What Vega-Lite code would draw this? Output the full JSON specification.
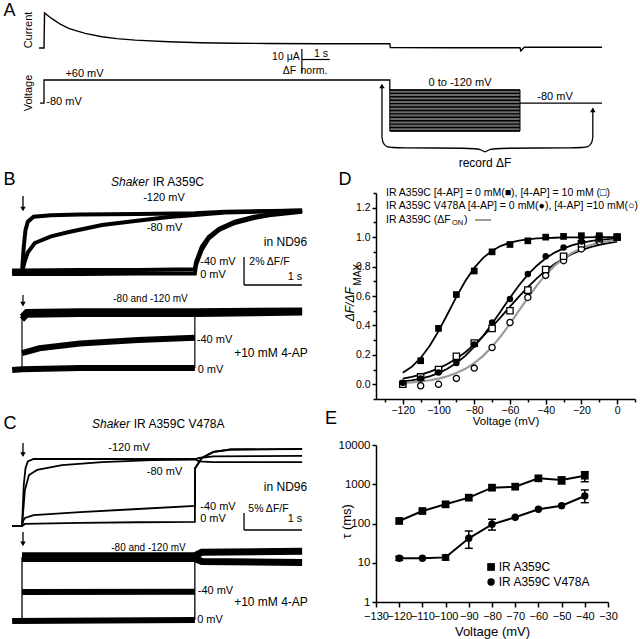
{
"$schema":"https://vega.github.io/schema/vega-lite/v6.json",
"padding":0,
"background":"white",
"spacing":0,
"bounds":"flush",
"config":{
 "view":{"stroke":null},
 "font":"Liberation Sans",
 "mark":{"color":"black"},
 "text":{"font":"Liberation Sans","fontSize":11,"color":"black"},
 "axis":{"labelFont":"Liberation Sans","titleFont":"Liberation Sans","domainColor":"black","tickColor":"black","labelColor":"black","titleColor":"black","grid":false,"titleFontWeight":"normal","domainWidth":1.5,"tickWidth":1.5,"labelFlush":false,"labelOverlap":false}
},
"datasets":{
 "aCur":[{"t":-0.18,"uA":0},{"t":0,"uA":0},{"t":0.02,"uA":14.6},{"t":0.2,"uA":12.9},{"t":0.39,"uA":11.4},{"t":0.6,"uA":9.8},{"t":0.88,"uA":8.2},{"t":1.2,"uA":7.0},{"t":1.47,"uA":6.1},{"t":2.07,"uA":4.7},{"t":2.6,"uA":3.9},{"t":3.26,"uA":3.3},{"t":4.45,"uA":2.6},{"t":5.6,"uA":2.2},{"t":6.8,"uA":2.0},{"t":8.0,"uA":1.9},{"t":9.93,"uA":1.8},{"t":12.35,"uA":1.8},{"t":12.37,"uA":0.2},{"t":14.5,"uA":0.1},{"t":17.0,"uA":0.1},{"t":17.03,"uA":-1.2},{"t":17.15,"uA":0.3},{"t":19.93,"uA":0.3}],
 "aVolt":[{"i":1,"seg":1,"t":-0.14,"mV":-80},{"i":2,"seg":1,"t":0,"mV":-80},{"i":3,"seg":1,"t":0,"mV":60},{"i":4,"seg":1,"t":12.35,"mV":60},{"i":5,"seg":1,"t":12.35,"mV":0},{"i":6,"seg":2,"t":17.0,"mV":-80},{"i":7,"seg":2,"t":19.93,"mV":-80}],
 "aFam":[{"mV":0,"start":12.35,"end":17.0},{"mV":-10,"start":12.35,"end":17.0},{"mV":-20,"start":12.35,"end":17.0},{"mV":-30,"start":12.35,"end":17.0},{"mV":-40,"start":12.35,"end":17.0},{"mV":-50,"start":12.35,"end":17.0},{"mV":-60,"start":12.35,"end":17.0},{"mV":-70,"start":12.35,"end":17.0},{"mV":-80,"start":12.35,"end":17.0},{"mV":-90,"start":12.35,"end":17.0},{"mV":-100,"start":12.35,"end":17.0},{"mV":-110,"start":12.35,"end":17.0},{"mV":-120,"start":12.35,"end":17.0}],
 "aBrace":[{"t":12.07,"mV":-286.7},{"t":12.1,"mV":-325},{"t":12.22,"mV":-348},{"t":12.5,"mV":-353.7},{"t":15.35,"mV":-353.7},{"t":15.62,"mV":-362},{"t":15.75,"mV":-384},{"t":15.88,"mV":-362},{"t":16.15,"mV":-353.7},{"t":19.17,"mV":-353.7},{"t":19.45,"mV":-348},{"t":19.57,"mV":-325},{"t":19.6,"mV":-286.7}],
 "bNd":[
  {"tr":"-120","t":-0.17,"pct":0},{"tr":"-120","t":0,"pct":0},{"tr":"-120","t":0.03,"pct":1.8},{"tr":"-120","t":0.06,"pct":3.0},{"tr":"-120","t":0.1,"pct":3.6},{"tr":"-120","t":0.2,"pct":3.95},{"tr":"-120","t":0.5,"pct":4.05},{"tr":"-120","t":1.0,"pct":4.1},{"tr":"-120","t":2.0,"pct":4.15},{"tr":"-120","t":2.98,"pct":4.2},{"tr":"-120","t":3.5,"pct":4.3},{"tr":"-120","t":4.83,"pct":4.4},
  {"tr":"-80","t":-0.17,"pct":0},{"tr":"-80","t":0,"pct":0},{"tr":"-80","t":0.05,"pct":0.8},{"tr":"-80","t":0.1,"pct":1.4},{"tr":"-80","t":0.22,"pct":2.07},{"tr":"-80","t":0.5,"pct":2.55},{"tr":"-80","t":0.81,"pct":2.86},{"tr":"-80","t":1.38,"pct":3.36},{"tr":"-80","t":1.95,"pct":3.64},{"tr":"-80","t":2.53,"pct":3.93},{"tr":"-80","t":2.98,"pct":4.07},{"tr":"-80","t":3.5,"pct":4.25},{"tr":"-80","t":4.83,"pct":4.4},
  {"tr":"-40","t":-0.17,"pct":0.1},{"tr":"-40","t":0,"pct":0.1},{"tr":"-40","t":1,"pct":0.15},{"tr":"-40","t":2,"pct":0.15},{"tr":"-40","t":2.98,"pct":0.2},{"tr":"-40","t":3.0,"pct":0.7},{"tr":"-40","t":3.1,"pct":1.8},{"tr":"-40","t":3.22,"pct":2.5},{"tr":"-40","t":3.4,"pct":3.1},{"tr":"-40","t":3.67,"pct":3.6},{"tr":"-40","t":4.0,"pct":3.95},{"tr":"-40","t":4.26,"pct":4.1},{"tr":"-40","t":4.83,"pct":4.35},
  {"tr":"0","t":-0.17,"pct":-0.15},{"tr":"0","t":0,"pct":-0.15},{"tr":"0","t":1,"pct":-0.15},{"tr":"0","t":2,"pct":-0.1},{"tr":"0","t":2.98,"pct":-0.1},{"tr":"0","t":3.0,"pct":0.5},{"tr":"0","t":3.1,"pct":1.6},{"tr":"0","t":3.22,"pct":2.4},{"tr":"0","t":3.4,"pct":3.0},{"tr":"0","t":3.67,"pct":3.5},{"tr":"0","t":4.0,"pct":3.85},{"tr":"0","t":4.26,"pct":4.05},{"tr":"0","t":4.83,"pct":4.3}],
 "b4ap":[
  {"tr":"-120","t":0,"pct":3.8},{"tr":"-120","t":0.08,"pct":4.15},{"tr":"-120","t":1,"pct":4.2},{"tr":"-120","t":2.98,"pct":4.2},{"tr":"-120","t":4.83,"pct":4.25},
  {"tr":"-80","t":0,"pct":3.6},{"tr":"-80","t":0.08,"pct":3.95},{"tr":"-80","t":1,"pct":4.0},{"tr":"-80","t":2.98,"pct":4.0},{"tr":"-80","t":4.83,"pct":4.1},
  {"tr":"-40","t":0,"pct":1.2},{"tr":"-40","t":0.3,"pct":1.55},{"tr":"-40","t":1,"pct":1.9},{"tr":"-40","t":2,"pct":2.15},{"tr":"-40","t":2.98,"pct":2.3},
  {"tr":"0","t":-0.17,"pct":0},{"tr":"0","t":0,"pct":0.05},{"tr":"0","t":1,"pct":0.15},{"tr":"0","t":2.98,"pct":0.15}],
 "cNd":[
  {"tr":"-120","t":-0.17,"pct":0},{"tr":"-120","t":0,"pct":0},{"tr":"-120","t":0.03,"pct":12},{"tr":"-120","t":0.06,"pct":17},{"tr":"-120","t":0.1,"pct":19},{"tr":"-120","t":0.2,"pct":19.7},{"tr":"-120","t":1,"pct":19.7},{"tr":"-120","t":2.98,"pct":19.7},{"tr":"-120","t":3.05,"pct":19.0},{"tr":"-120","t":3.3,"pct":18.8},{"tr":"-120","t":4.83,"pct":18.8},
  {"tr":"-80","t":-0.17,"pct":0},{"tr":"-80","t":0,"pct":0},{"tr":"-80","t":0.05,"pct":10.6},{"tr":"-80","t":0.12,"pct":15},{"tr":"-80","t":0.26,"pct":16.5},{"tr":"-80","t":0.69,"pct":17.9},{"tr":"-80","t":1.38,"pct":18.8},{"tr":"-80","t":2.24,"pct":19.4},{"tr":"-80","t":2.98,"pct":19.5},{"tr":"-80","t":3.05,"pct":20},{"tr":"-80","t":3.3,"pct":20.5},{"tr":"-80","t":4.83,"pct":20.6},
  {"tr":"-40","t":-0.17,"pct":0},{"tr":"-40","t":0,"pct":0},{"tr":"-40","t":0.02,"pct":1.5},{"tr":"-40","t":0.05,"pct":2.35},{"tr":"-40","t":0.2,"pct":3.2},{"tr":"-40","t":1,"pct":4.1},{"tr":"-40","t":2,"pct":5.0},{"tr":"-40","t":2.98,"pct":5.9},{"tr":"-40","t":2.985,"pct":17},{"tr":"-40","t":3.1,"pct":20},{"tr":"-40","t":3.3,"pct":21.8},{"tr":"-40","t":3.6,"pct":22.5},{"tr":"-40","t":4.83,"pct":22.6},
  {"tr":"0","t":-0.17,"pct":0},{"tr":"0","t":0,"pct":0},{"tr":"0","t":0.05,"pct":0.6},{"tr":"0","t":1,"pct":0.9},{"tr":"0","t":2,"pct":1.1},{"tr":"0","t":2.98,"pct":1.2},{"tr":"0","t":2.985,"pct":17},{"tr":"0","t":3.1,"pct":20},{"tr":"0","t":3.3,"pct":21.8},{"tr":"0","t":3.6,"pct":22.5},{"tr":"0","t":4.83,"pct":22.7}],
 "c4ap":[
  {"tr":"-120","t":0,"pct":18.4},{"tr":"-120","t":2.98,"pct":18.4},{"tr":"-120","t":3.1,"pct":17.5},{"tr":"-120","t":4.83,"pct":17.2},
  {"tr":"-80","t":0,"pct":19.2},{"tr":"-80","t":2.98,"pct":19.2},{"tr":"-80","t":3.1,"pct":20.2},{"tr":"-80","t":4.83,"pct":20.5},
  {"tr":"-40","t":0,"pct":8.5},{"tr":"-40","t":2.98,"pct":8.6},
  {"tr":"0","t":-0.17,"pct":0},{"tr":"0","t":2.98,"pct":0.3}],
 "dCurve":[
  {"s":"sq0","V":-120,"val":0.078},{"s":"sq0","V":-115,"val":0.119},{"s":"sq0","V":-110,"val":0.179},{"s":"sq0","V":-105,"val":0.26},{"s":"sq0","V":-100,"val":0.361},{"s":"sq0","V":-95,"val":0.476},{"s":"sq0","V":-90,"val":0.594},{"s":"sq0","V":-85,"val":0.702},{"s":"sq0","V":-80,"val":0.791},{"s":"sq0","V":-75,"val":0.859},{"s":"sq0","V":-70,"val":0.908},{"s":"sq0","V":-65,"val":0.941},{"s":"sq0","V":-60,"val":0.962},{"s":"sq0","V":-55,"val":0.976},{"s":"sq0","V":-50,"val":0.985},{"s":"sq0","V":-45,"val":0.991},{"s":"sq0","V":-40,"val":0.994},{"s":"sq0","V":-35,"val":0.996},{"s":"sq0","V":-30,"val":0.998},{"s":"sq0","V":-20,"val":0.999},{"s":"sq0","V":-10,"val":1.0},{"s":"sq0","V":0,"val":1.0},
  {"s":"sq10","V":-120,"val":0.038},{"s":"sq10","V":-115,"val":0.05},{"s":"sq10","V":-110,"val":0.065},{"s":"sq10","V":-105,"val":0.084},{"s":"sq10","V":-100,"val":0.108},{"s":"sq10","V":-95,"val":0.138},{"s":"sq10","V":-90,"val":0.174},{"s":"sq10","V":-85,"val":0.218},{"s":"sq10","V":-80,"val":0.269},{"s":"sq10","V":-75,"val":0.327},{"s":"sq10","V":-70,"val":0.391},{"s":"sq10","V":-65,"val":0.458},{"s":"sq10","V":-60,"val":0.528},{"s":"sq10","V":-55,"val":0.596},{"s":"sq10","V":-50,"val":0.661},{"s":"sq10","V":-45,"val":0.72},{"s":"sq10","V":-40,"val":0.772},{"s":"sq10","V":-35,"val":0.818},{"s":"sq10","V":-30,"val":0.855},{"s":"sq10","V":-25,"val":0.887},{"s":"sq10","V":-20,"val":0.912},{"s":"sq10","V":-15,"val":0.932},{"s":"sq10","V":-10,"val":0.947},{"s":"sq10","V":-5,"val":0.96},{"s":"sq10","V":0,"val":0.969},
  {"s":"ci0","V":-120,"val":0.019},{"s":"ci0","V":-115,"val":0.027},{"s":"ci0","V":-110,"val":0.039},{"s":"ci0","V":-105,"val":0.054},{"s":"ci0","V":-100,"val":0.076},{"s":"ci0","V":-95,"val":0.105},{"s":"ci0","V":-90,"val":0.144},{"s":"ci0","V":-85,"val":0.193},{"s":"ci0","V":-80,"val":0.255},{"s":"ci0","V":-75,"val":0.329},{"s":"ci0","V":-70,"val":0.411},{"s":"ci0","V":-65,"val":0.5},{"s":"ci0","V":-60,"val":0.588},{"s":"ci0","V":-55,"val":0.671},{"s":"ci0","V":-50,"val":0.745},{"s":"ci0","V":-45,"val":0.806},{"s":"ci0","V":-40,"val":0.856},{"s":"ci0","V":-35,"val":0.895},{"s":"ci0","V":-30,"val":0.924},{"s":"ci0","V":-25,"val":0.946},{"s":"ci0","V":-20,"val":0.961},{"s":"ci0","V":-15,"val":0.973},{"s":"ci0","V":-10,"val":0.981},{"s":"ci0","V":-5,"val":0.986},{"s":"ci0","V":0,"val":0.99},
  {"s":"ON","V":-120,"val":0.0096},{"s":"ON","V":-115,"val":0.0136},{"s":"ON","V":-110,"val":0.019},{"s":"ON","V":-105,"val":0.0274},{"s":"ON","V":-100,"val":0.0386},{"s":"ON","V":-95,"val":0.0543},{"s":"ON","V":-90,"val":0.076},{"s":"ON","V":-85,"val":0.105},{"s":"ON","V":-80,"val":0.144},{"s":"ON","V":-75,"val":0.193},{"s":"ON","V":-70,"val":0.255},{"s":"ON","V":-65,"val":0.329},{"s":"ON","V":-60,"val":0.411},{"s":"ON","V":-55,"val":0.5},{"s":"ON","V":-50,"val":0.588},{"s":"ON","V":-45,"val":0.671},{"s":"ON","V":-40,"val":0.745},{"s":"ON","V":-35,"val":0.806},{"s":"ON","V":-30,"val":0.856},{"s":"ON","V":-25,"val":0.895},{"s":"ON","V":-20,"val":0.924},{"s":"ON","V":-15,"val":0.946},{"s":"ON","V":-10,"val":0.961},{"s":"ON","V":-5,"val":0.973},{"s":"ON","V":0,"val":0.981}],
 "dPts":[
  {"s":"sqF","V":-110,"val":0.16},{"s":"sqF","V":-100,"val":0.38},{"s":"sqF","V":-90,"val":0.61},{"s":"sqF","V":-80,"val":0.77},{"s":"sqF","V":-70,"val":0.9},{"s":"sqF","V":-60,"val":0.95},{"s":"sqF","V":-50,"val":0.975},{"s":"sqF","V":-40,"val":1.0},{"s":"sqF","V":-30,"val":1.005},{"s":"sqF","V":-20,"val":1.01},{"s":"sqF","V":-10,"val":1.01},{"s":"sqF","V":0,"val":1.0},
  {"s":"sqO","V":-120,"val":0.0},{"s":"sqO","V":-110,"val":0.05},{"s":"sqO","V":-100,"val":0.1},{"s":"sqO","V":-90,"val":0.19},{"s":"sqO","V":-80,"val":0.28},{"s":"sqO","V":-70,"val":0.38},{"s":"sqO","V":-60,"val":0.5},{"s":"sqO","V":-50,"val":0.64},{"s":"sqO","V":-40,"val":0.78},{"s":"sqO","V":-30,"val":0.87},{"s":"sqO","V":-20,"val":0.955},{"s":"sqO","V":-10,"val":0.99},{"s":"sqO","V":0,"val":1.0},
  {"s":"ciF","V":-120,"val":0.01},{"s":"ciF","V":-110,"val":0.04},{"s":"ciF","V":-100,"val":0.08},{"s":"ciF","V":-90,"val":0.145},{"s":"ciF","V":-80,"val":0.27},{"s":"ciF","V":-70,"val":0.42},{"s":"ciF","V":-60,"val":0.58},{"s":"ciF","V":-50,"val":0.75},{"s":"ciF","V":-40,"val":0.87},{"s":"ciF","V":-30,"val":0.93},{"s":"ciF","V":-20,"val":0.97},{"s":"ciF","V":-10,"val":0.99},{"s":"ciF","V":0,"val":1.0},
  {"s":"ciO","V":-120,"val":0.0},{"s":"ciO","V":-110,"val":-0.01},{"s":"ciO","V":-100,"val":0.0},{"s":"ciO","V":-90,"val":0.04},{"s":"ciO","V":-80,"val":0.11},{"s":"ciO","V":-70,"val":0.25},{"s":"ciO","V":-60,"val":0.42},{"s":"ciO","V":-50,"val":0.59},{"s":"ciO","V":-40,"val":0.74},{"s":"ciO","V":-30,"val":0.84},{"s":"ciO","V":-20,"val":0.92},{"s":"ciO","V":-10,"val":0.97},{"s":"ciO","V":0,"val":1.0}],
 "eTau":[
  {"s":"sq","V":-120,"tau":116},{"s":"sq","V":-110,"tau":208},{"s":"sq","V":-100,"tau":308},{"s":"sq","V":-90,"tau":455},{"s":"sq","V":-80,"tau":818},{"s":"sq","V":-70,"tau":867},{"s":"sq","V":-60,"tau":1416},{"s":"sq","V":-50,"tau":1283},{"s":"sq","V":-40,"tau":1652},
  {"s":"ci","V":-120,"tau":13.0},{"s":"ci","V":-110,"tau":13.0},{"s":"ci","V":-100,"tau":13.7},{"s":"ci","V":-90,"tau":41.9},{"s":"ci","V":-80,"tau":95.4},{"s":"ci","V":-70,"tau":144},{"s":"ci","V":-60,"tau":230},{"s":"ci","V":-50,"tau":284},{"s":"ci","V":-40,"tau":502}],
 "eErr":[{"V":-120,"lo":11.5,"hi":14.5},{"V":-100,"lo":11.7,"hi":15.7},{"V":-90,"lo":23.3,"hi":64.4},{"V":-80,"lo":68,"hi":128},{"V":-40,"lo":339,"hi":713},{"V":-50,"lo":1015,"hi":1500},{"V":-40,"lo":1160,"hi":2090}]
},
"vconcat":[
 {
  "width":640,"height":170,
  "resolve":{"scale":{"y":"independent"}},
  "layer":[
   {"layer":[
    {"data":{"name":"aCur"},"mark":{"type":"line","strokeWidth":1.4},
     "encoding":{"x":{"field":"t","type":"quantitative","scale":{"domain":[-1.5,21.357],"nice":false,"zero":false},"axis":null},
                 "y":{"field":"uA","type":"quantitative","scale":{"domain":[-50.833,20],"nice":false,"zero":false},"axis":null}}},
    {"data":{"values":[{"t":9.21,"lo":-10.42,"hi":-0.42}]},"mark":{"type":"rule","strokeWidth":1.2},
     "encoding":{"x":{"field":"t","type":"quantitative","scale":{"domain":[-1.5,21.357],"nice":false,"zero":false},"axis":null},
                 "y":{"field":"lo","type":"quantitative","scale":{"domain":[-50.833,20],"nice":false,"zero":false},"axis":null},"y2":{"field":"hi"}}},
    {"data":{"values":[{"uA":-4.79,"t0":9.21,"t1":10.21}]},"mark":{"type":"rule","strokeWidth":1.2},
     "encoding":{"x":{"field":"t0","type":"quantitative","scale":{"domain":[-1.5,21.357],"nice":false,"zero":false},"axis":null},"x2":{"field":"t1"},
                 "y":{"field":"uA","type":"quantitative","scale":{"domain":[-50.833,20],"nice":false,"zero":false},"axis":null}}},
    {"data":{"values":[{"label":"10 μA","t":8.64,"uA":-3.75},{"label":"ΔF","t":8.77,"uA":-9.58},{"label":"norm.","t":9.64,"uA":-9.58},{"label":"1 s","t":9.89,"uA":-2.5}]},
     "mark":{"type":"text","fontSize":10.5},
     "encoding":{"x":{"field":"t","type":"quantitative","scale":{"domain":[-1.5,21.357],"nice":false,"zero":false},"axis":null},
                 "y":{"field":"uA","type":"quantitative","scale":{"domain":[-50.833,20],"nice":false,"zero":false},"axis":null},"text":{"field":"label"}}},
    {"data":{"values":[{"label":"Current","t":-0.54,"uA":7.5}]},
     "mark":{"type":"text","fontSize":11,"angle":270},
     "encoding":{"x":{"field":"t","type":"quantitative","scale":{"domain":[-1.5,21.357],"nice":false,"zero":false},"axis":null},
                 "y":{"field":"uA","type":"quantitative","scale":{"domain":[-50.833,20],"nice":false,"zero":false},"axis":null},"text":{"field":"label"}}}
   ]},
   {"layer":[
    {"data":{"name":"aVolt"},"mark":{"type":"line","strokeWidth":1.3},
     "encoding":{"x":{"field":"t","type":"quantitative","scale":{"domain":[-1.5,21.357],"nice":false,"zero":false},"axis":null},
                 "y":{"field":"mV","type":"quantitative","scale":{"domain":[-487.6,547],"nice":false,"zero":false},"axis":null},
                 "detail":{"field":"seg"},"order":{"field":"i"}}},
    {"data":{"values":[{"label":"+60 mV","t":1.446,"mV":96.6},{"label":"-80 mV","t":0.714,"mV":-73.7},{"label":"0 to -120 mV","t":14.857,"mV":41.9},{"label":"-80 mV","t":18.25,"mV":-43.3}]},
     "mark":{"type":"text","fontSize":11},
     "encoding":{"x":{"field":"t","type":"quantitative","scale":{"domain":[-1.5,21.357],"nice":false,"zero":false},"axis":null},
                 "y":{"field":"mV","type":"quantitative","scale":{"domain":[-487.6,547],"nice":false,"zero":false},"axis":null},"text":{"field":"label"}}},
    {"data":{"values":[{"label":"record ΔF","t":15.75,"mV":-445}]},
     "mark":{"type":"text","fontSize":12},
     "encoding":{"x":{"field":"t","type":"quantitative","scale":{"domain":[-1.5,21.357],"nice":false,"zero":false},"axis":null},
                 "y":{"field":"mV","type":"quantitative","scale":{"domain":[-487.6,547],"nice":false,"zero":false},"axis":null},"text":{"field":"label"}}},
    {"data":{"values":[{"label":"Voltage","t":-0.54,"mV":-19}]},
     "mark":{"type":"text","fontSize":11,"angle":270},
     "encoding":{"x":{"field":"t","type":"quantitative","scale":{"domain":[-1.5,21.357],"nice":false,"zero":false},"axis":null},
                 "y":{"field":"mV","type":"quantitative","scale":{"domain":[-487.6,547],"nice":false,"zero":false},"axis":null},"text":{"field":"label"}}},
    {"data":{"values":[{"label":"A","t":-1.23,"mV":483}]},
     "mark":{"type":"text","fontSize":18},
     "encoding":{"x":{"field":"t","type":"quantitative","scale":{"domain":[-1.5,21.357],"nice":false,"zero":false},"axis":null},
                 "y":{"field":"mV","type":"quantitative","scale":{"domain":[-487.6,547],"nice":false,"zero":false},"axis":null},"text":{"field":"label"}}},
    {"data":{"values":[{"t":12.07,"lo":-286.7,"hi":30},{"t":19.6,"lo":-286.7,"hi":-115}]},
     "mark":{"type":"rule","strokeWidth":1.3},
     "encoding":{"x":{"field":"t","type":"quantitative","scale":{"domain":[-1.5,21.357],"nice":false,"zero":false},"axis":null},
                 "y":{"field":"lo","type":"quantitative","scale":{"domain":[-487.6,547],"nice":false,"zero":false},"axis":null},"y2":{"field":"hi"}}},
    {"data":{"values":[{"t":12.07,"mV":23.6},{"t":19.6,"mV":-122.4}]},
     "mark":{"type":"point","shape":"triangle-up","filled":true,"size":30,"opacity":1},
     "encoding":{"x":{"field":"t","type":"quantitative","scale":{"domain":[-1.5,21.357],"nice":false,"zero":false},"axis":null},
                 "y":{"field":"mV","type":"quantitative","scale":{"domain":[-487.6,547],"nice":false,"zero":false},"axis":null}}},
    {"data":{"name":"aBrace"},"mark":{"type":"line","strokeWidth":1.3,"interpolate":"basis"},
     "encoding":{"x":{"field":"t","type":"quantitative","scale":{"domain":[-1.5,21.357],"nice":false,"zero":false},"axis":null},
                 "y":{"field":"mV","type":"quantitative","scale":{"domain":[-487.6,547],"nice":false,"zero":false},"axis":null}}}
   ]},
   {"layer":[
    {"data":{"values":[{"start":12.35,"end":17.0,"top":0,"bottom":-120}]},
     "mark":{"type":"rect","fill":"#6a6a6a","stroke":"black","strokeWidth":1},
     "encoding":{"x":{"field":"start","type":"quantitative","scale":{"domain":[-1.5,21.357],"nice":false,"zero":false},"axis":null},"x2":{"field":"end"},
                 "y":{"field":"top","type":"quantitative","scale":{"domain":[-234.2,263.4],"nice":false,"zero":false},"axis":null},"y2":{"field":"bottom"}}},
    {"data":{"name":"aFam"},"mark":{"type":"rule","strokeWidth":1.4},
     "encoding":{"x":{"field":"start","type":"quantitative","scale":{"domain":[-1.5,21.357],"nice":false,"zero":false},"axis":null},"x2":{"field":"end"},
                 "y":{"field":"mV","type":"quantitative","scale":{"domain":[-234.2,263.4],"nice":false,"zero":false},"axis":null}}}
   ]}
  ]
 },
 {"hconcat":[
  {"vconcat":[
   {
    "width":322,"height":250,
    "resolve":{"scale":{"y":"independent"}},
    "layer":[
     {"layer":[
      {"data":{"name":"bNd"},"mark":{"type":"line","strokeWidth":4},
       "encoding":{"x":{"field":"t","type":"quantitative","scale":{"domain":[-0.345,5.2069],"nice":false,"zero":false},"axis":null},
                   "y":{"field":"pct","type":"quantitative","scale":{"domain":[-10.5714,7.2857],"nice":false,"zero":false},"axis":null},"detail":{"field":"tr"}}},
      {"data":{"values":[{"label":"-120 mV","t":2.448,"pct":5.29},{"label":"-80 mV","t":2.457,"pct":3.14},{"label":"-40 mV","t":3.379,"pct":0.71},{"label":"0 mV","t":3.293,"pct":-0.21},{"label":"1 s","t":4.707,"pct":-0.36}]},
       "mark":{"type":"text","fontSize":11},
       "encoding":{"x":{"field":"t","type":"quantitative","scale":{"domain":[-0.345,5.2069],"nice":false,"zero":false},"axis":null},
                   "y":{"field":"pct","type":"quantitative","scale":{"domain":[-10.5714,7.2857],"nice":false,"zero":false},"axis":null},"text":{"field":"label"}}},
      {"data":{"values":[{"label":"in ND96","t":4.543,"pct":2.14},{"label":"IR A359C","t":2.695,"pct":6.43}]},
       "mark":{"type":"text","fontSize":12},
       "encoding":{"x":{"field":"t","type":"quantitative","scale":{"domain":[-0.345,5.2069],"nice":false,"zero":false},"axis":null},
                   "y":{"field":"pct","type":"quantitative","scale":{"domain":[-10.5714,7.2857],"nice":false,"zero":false},"axis":null},"text":{"field":"label"}}},
      {"data":{"values":[{"label":"Shaker","t":1.862,"pct":6.43}]},
       "mark":{"type":"text","fontSize":12,"fontStyle":"italic"},
       "encoding":{"x":{"field":"t","type":"quantitative","scale":{"domain":[-0.345,5.2069],"nice":false,"zero":false},"axis":null},
                   "y":{"field":"pct","type":"quantitative","scale":{"domain":[-10.5714,7.2857],"nice":false,"zero":false},"axis":null},"text":{"field":"label"}}},
      {"data":{"values":[{"label":"2% ΔF/F","t":4.267,"pct":0.71}]},
       "mark":{"type":"text","fontSize":10.5},
       "encoding":{"x":{"field":"t","type":"quantitative","scale":{"domain":[-0.345,5.2069],"nice":false,"zero":false},"axis":null},
                   "y":{"field":"pct","type":"quantitative","scale":{"domain":[-10.5714,7.2857],"nice":false,"zero":false},"axis":null},"text":{"field":"label"}}},
      {"data":{"values":[{"label":"B","t":-0.216,"pct":6.57}]},
       "mark":{"type":"text","fontSize":18},
       "encoding":{"x":{"field":"t","type":"quantitative","scale":{"domain":[-0.345,5.2069],"nice":false,"zero":false},"axis":null},
                   "y":{"field":"pct","type":"quantitative","scale":{"domain":[-10.5714,7.2857],"nice":false,"zero":false},"axis":null},"text":{"field":"label"}}},
      {"data":{"values":[{"t":3.828,"lo":-0.93,"hi":1.07},{"t":0.017,"lo":4.5,"hi":5.43}]},
       "mark":{"type":"rule","strokeWidth":1.3},
       "encoding":{"x":{"field":"t","type":"quantitative","scale":{"domain":[-0.345,5.2069],"nice":false,"zero":false},"axis":null},
                   "y":{"field":"lo","type":"quantitative","scale":{"domain":[-10.5714,7.2857],"nice":false,"zero":false},"axis":null},"y2":{"field":"hi"}}},
      {"data":{"values":[{"pct":-0.93,"t0":3.828,"t1":4.828}]},
       "mark":{"type":"rule","strokeWidth":1.3},
       "encoding":{"x":{"field":"t0","type":"quantitative","scale":{"domain":[-0.345,5.2069],"nice":false,"zero":false},"axis":null},"x2":{"field":"t1"},
                   "y":{"field":"pct","type":"quantitative","scale":{"domain":[-10.5714,7.2857],"nice":false,"zero":false},"axis":null}}},
      {"data":{"values":[{"t":0.017,"pct":4.5}]},
       "mark":{"type":"point","shape":"triangle-down","filled":true,"size":30,"opacity":1},
       "encoding":{"x":{"field":"t","type":"quantitative","scale":{"domain":[-0.345,5.2069],"nice":false,"zero":false},"axis":null},
                   "y":{"field":"pct","type":"quantitative","scale":{"domain":[-10.5714,7.2857],"nice":false,"zero":false},"axis":null}}}
     ]},
     {"layer":[
      {"data":{"name":"b4ap"},"mark":{"type":"line","strokeWidth":6},
       "encoding":{"x":{"field":"t","type":"quantitative","scale":{"domain":[-0.345,5.2069],"nice":false,"zero":false},"axis":null},
                   "y":{"field":"pct","type":"quantitative","scale":{"domain":[-3.5714,14.2857],"nice":false,"zero":false},"axis":null},"detail":{"field":"tr"}}},
      {"data":{"values":[{"t":0,"lo":0,"hi":3.7},{"t":2.98,"lo":0.15,"hi":4.1},{"t":0.017,"lo":4.71,"hi":5.36}]},
       "mark":{"type":"rule","strokeWidth":1.2},
       "encoding":{"x":{"field":"t","type":"quantitative","scale":{"domain":[-0.345,5.2069],"nice":false,"zero":false},"axis":null},
                   "y":{"field":"lo","type":"quantitative","scale":{"domain":[-3.5714,14.2857],"nice":false,"zero":false},"axis":null},"y2":{"field":"hi"}}},
      {"data":{"values":[{"label":"-80 and -120 mV","t":2.216,"pct":5.07}]},
       "mark":{"type":"text","fontSize":10},
       "encoding":{"x":{"field":"t","type":"quantitative","scale":{"domain":[-0.345,5.2069],"nice":false,"zero":false},"axis":null},
                   "y":{"field":"pct","type":"quantitative","scale":{"domain":[-3.5714,14.2857],"nice":false,"zero":false},"axis":null},"text":{"field":"label"}}},
      {"data":{"values":[{"label":"-40 mV","t":3.319,"pct":2.14},{"label":"0 mV","t":3.25,"pct":0}]},
       "mark":{"type":"text","fontSize":11},
       "encoding":{"x":{"field":"t","type":"quantitative","scale":{"domain":[-0.345,5.2069],"nice":false,"zero":false},"axis":null},
                   "y":{"field":"pct","type":"quantitative","scale":{"domain":[-3.5714,14.2857],"nice":false,"zero":false},"axis":null},"text":{"field":"label"}}},
      {"data":{"values":[{"label":"+10 mM 4-AP","t":4.293,"pct":1.21}]},
       "mark":{"type":"text","fontSize":12},
       "encoding":{"x":{"field":"t","type":"quantitative","scale":{"domain":[-0.345,5.2069],"nice":false,"zero":false},"axis":null},
                   "y":{"field":"pct","type":"quantitative","scale":{"domain":[-3.5714,14.2857],"nice":false,"zero":false},"axis":null},"text":{"field":"label"}}},
      {"data":{"values":[{"t":0.017,"pct":4.71}]},
       "mark":{"type":"point","shape":"triangle-down","filled":true,"size":30,"opacity":1},
       "encoding":{"x":{"field":"t","type":"quantitative","scale":{"domain":[-0.345,5.2069],"nice":false,"zero":false},"axis":null},
                   "y":{"field":"pct","type":"quantitative","scale":{"domain":[-3.5714,14.2857],"nice":false,"zero":false},"axis":null}}}
     ]}
    ]
   },
   {
    "width":322,"height":219,
    "resolve":{"scale":{"y":"independent"}},
    "layer":[
     {"layer":[
      {"data":{"name":"cNd"},"mark":{"type":"line","strokeWidth":1.8},
       "encoding":{"x":{"field":"t","type":"quantitative","scale":{"domain":[-0.345,5.2069],"nice":false,"zero":false},"axis":null},
                   "y":{"field":"pct","type":"quantitative","scale":{"domain":[-33.235,31.176],"nice":false,"zero":false},"axis":null},"detail":{"field":"tr"}}},
      {"data":{"values":[{"label":"-120 mV","t":1.845,"pct":22.94},{"label":"-80 mV","t":2.457,"pct":15.88},{"label":"-40 mV","t":3.379,"pct":5.59},{"label":"0 mV","t":3.293,"pct":2.06},{"label":"1 s","t":4.707,"pct":2.06}]},
       "mark":{"type":"text","fontSize":11},
       "encoding":{"x":{"field":"t","type":"quantitative","scale":{"domain":[-0.345,5.2069],"nice":false,"zero":false},"axis":null},
                   "y":{"field":"pct","type":"quantitative","scale":{"domain":[-33.235,31.176],"nice":false,"zero":false},"axis":null},"text":{"field":"label"}}},
      {"data":{"values":[{"label":"in ND96","t":4.543,"pct":11.47},{"label":"IR A359C V478A","t":2.709,"pct":30.0}]},
       "mark":{"type":"text","fontSize":12},
       "encoding":{"x":{"field":"t","type":"quantitative","scale":{"domain":[-0.345,5.2069],"nice":false,"zero":false},"axis":null},
                   "y":{"field":"pct","type":"quantitative","scale":{"domain":[-33.235,31.176],"nice":false,"zero":false},"axis":null},"text":{"field":"label"}}},
      {"data":{"values":[{"label":"Shaker","t":1.534,"pct":30.0}]},
       "mark":{"type":"text","fontSize":12,"fontStyle":"italic"},
       "encoding":{"x":{"field":"t","type":"quantitative","scale":{"domain":[-0.345,5.2069],"nice":false,"zero":false},"axis":null},
                   "y":{"field":"pct","type":"quantitative","scale":{"domain":[-33.235,31.176],"nice":false,"zero":false},"axis":null},"text":{"field":"label"}}},
      {"data":{"values":[{"label":"5% ΔF/F","t":4.25,"pct":5.0}]},
       "mark":{"type":"text","fontSize":10.5},
       "encoding":{"x":{"field":"t","type":"quantitative","scale":{"domain":[-0.345,5.2069],"nice":false,"zero":false},"axis":null},
                   "y":{"field":"pct","type":"quantitative","scale":{"domain":[-33.235,31.176],"nice":false,"zero":false},"axis":null},"text":{"field":"label"}}},
      {"data":{"values":[{"label":"C","t":-0.207,"pct":30.0}]},
       "mark":{"type":"text","fontSize":18},
       "encoding":{"x":{"field":"t","type":"quantitative","scale":{"domain":[-0.345,5.2069],"nice":false,"zero":false},"axis":null},
                   "y":{"field":"pct","type":"quantitative","scale":{"domain":[-33.235,31.176],"nice":false,"zero":false},"axis":null},"text":{"field":"label"}}},
      {"data":{"values":[{"t":3.828,"lo":-1.18,"hi":3.82},{"t":0.017,"lo":21.0,"hi":24.41}]},
       "mark":{"type":"rule","strokeWidth":1.3},
       "encoding":{"x":{"field":"t","type":"quantitative","scale":{"domain":[-0.345,5.2069],"nice":false,"zero":false},"axis":null},
                   "y":{"field":"lo","type":"quantitative","scale":{"domain":[-33.235,31.176],"nice":false,"zero":false},"axis":null},"y2":{"field":"hi"}}},
      {"data":{"values":[{"pct":-1.18,"t0":3.828,"t1":4.828}]},
       "mark":{"type":"rule","strokeWidth":1.3},
       "encoding":{"x":{"field":"t0","type":"quantitative","scale":{"domain":[-0.345,5.2069],"nice":false,"zero":false},"axis":null},"x2":{"field":"t1"},
                   "y":{"field":"pct","type":"quantitative","scale":{"domain":[-33.235,31.176],"nice":false,"zero":false},"axis":null}}},
      {"data":{"values":[{"t":0.017,"pct":21.0}]},
       "mark":{"type":"point","shape":"triangle-down","filled":true,"size":30,"opacity":1},
       "encoding":{"x":{"field":"t","type":"quantitative","scale":{"domain":[-0.345,5.2069],"nice":false,"zero":false},"axis":null},
                   "y":{"field":"pct","type":"quantitative","scale":{"domain":[-33.235,31.176],"nice":false,"zero":false},"axis":null}}}
     ]},
     {"layer":[
      {"data":{"name":"c4ap"},"transform":[{"filter":"datum.tr == '-120' || datum.tr == '-80'"}],"mark":{"type":"line","strokeWidth":7},
       "encoding":{"x":{"field":"t","type":"quantitative","scale":{"domain":[-0.345,5.2069],"nice":false,"zero":false},"axis":null},
                   "y":{"field":"pct","type":"quantitative","scale":{"domain":[-5.294,59.118],"nice":false,"zero":false},"axis":null},"detail":{"field":"tr"}}},
      {"data":{"name":"c4ap"},"transform":[{"filter":"datum.tr == '-40' || datum.tr == '0'"}],"mark":{"type":"line","strokeWidth":6},
       "encoding":{"x":{"field":"t","type":"quantitative","scale":{"domain":[-0.345,5.2069],"nice":false,"zero":false},"axis":null},
                   "y":{"field":"pct","type":"quantitative","scale":{"domain":[-5.294,59.118],"nice":false,"zero":false},"axis":null},"detail":{"field":"tr"}}},
      {"data":{"values":[{"t":0,"lo":0,"hi":18.8},{"t":2.98,"lo":0.3,"hi":18.8},{"t":0.017,"lo":22.65,"hi":26.18}]},
       "mark":{"type":"rule","strokeWidth":1.3},
       "encoding":{"x":{"field":"t","type":"quantitative","scale":{"domain":[-0.345,5.2069],"nice":false,"zero":false},"axis":null},
                   "y":{"field":"lo","type":"quantitative","scale":{"domain":[-5.294,59.118],"nice":false,"zero":false},"axis":null},"y2":{"field":"hi"}}},
      {"data":{"values":[{"label":"-80 and -120 mV","t":2.181,"pct":21.47}]},
       "mark":{"type":"text","fontSize":10},
       "encoding":{"x":{"field":"t","type":"quantitative","scale":{"domain":[-0.345,5.2069],"nice":false,"zero":false},"axis":null},
                   "y":{"field":"pct","type":"quantitative","scale":{"domain":[-5.294,59.118],"nice":false,"zero":false},"axis":null},"text":{"field":"label"}}},
      {"data":{"values":[{"label":"-40 mV","t":3.336,"pct":8.82},{"label":"0 mV","t":3.241,"pct":0.29}]},
       "mark":{"type":"text","fontSize":11},
       "encoding":{"x":{"field":"t","type":"quantitative","scale":{"domain":[-0.345,5.2069],"nice":false,"zero":false},"axis":null},
                   "y":{"field":"pct","type":"quantitative","scale":{"domain":[-5.294,59.118],"nice":false,"zero":false},"axis":null},"text":{"field":"label"}}},
      {"data":{"values":[{"label":"+10 mM 4-AP","t":4.293,"pct":5.59}]},
       "mark":{"type":"text","fontSize":12},
       "encoding":{"x":{"field":"t","type":"quantitative","scale":{"domain":[-0.345,5.2069],"nice":false,"zero":false},"axis":null},
                   "y":{"field":"pct","type":"quantitative","scale":{"domain":[-5.294,59.118],"nice":false,"zero":false},"axis":null},"text":{"field":"label"}}},
      {"data":{"values":[{"t":0.017,"pct":22.65}]},
       "mark":{"type":"point","shape":"triangle-down","filled":true,"size":30,"opacity":1},
       "encoding":{"x":{"field":"t","type":"quantitative","scale":{"domain":[-0.345,5.2069],"nice":false,"zero":false},"axis":null},
                   "y":{"field":"pct","type":"quantitative","scale":{"domain":[-5.294,59.118],"nice":false,"zero":false},"axis":null}}}
     ]}
    ]
   }
  ],"spacing":0,"bounds":"flush"},
  {"vconcat":[
   {"width":259,"height":23,"data":{"values":[]},"mark":"point"},
   {
    "width":259,"height":206,
    "resolve":{"axis":{"x":"independent","y":"independent"}},
    "layer":[
     {"data":{"name":"dCurve"},"transform":[{"filter":"datum.s != 'ON'"}],"mark":{"type":"line","strokeWidth":1.8},
      "encoding":{"x":{"field":"V","type":"quantitative","scale":{"domain":[-135,10],"nice":false,"zero":false},
                       "axis":{"orient":"bottom","values":[-120,-100,-80,-60,-40,-20,0],"title":"Voltage (mV)","tickSize":5,"labelPadding":1,"labelFontSize":10.5,"titleFontSize":11.5,"titleY":22,"titleBaseline":"middle"}},
                  "y":{"field":"val","type":"quantitative","scale":{"domain":[-0.1,1.3],"nice":false,"zero":false},
                       "axis":{"orient":"left","values":[0,0.2,0.4,0.6,0.8,1,1.2],"format":".1f","title":null,"tickSize":4,"labelPadding":2,"labelFontSize":10.5}},
                  "detail":{"field":"s"}}},
     {"data":{"name":"dCurve"},"transform":[{"filter":"datum.s == 'ON'"}],"mark":{"type":"line","strokeWidth":2.2,"color":"#9a9a9a"},
      "encoding":{"x":{"field":"V","type":"quantitative","scale":{"domain":[-135,10],"nice":false,"zero":false},
                       "axis":{"orient":"bottom","values":[-130,-110,-90,-70,-50,-30,-10,10],"labels":false,"title":null,"domain":false,"tickSize":3}},
                  "y":{"field":"val","type":"quantitative","scale":{"domain":[-0.1,1.3],"nice":false,"zero":false},
                       "axis":{"orient":"left","values":[-0.1,0.1,0.3,0.5,0.7,0.9,1.1,1.3],"labels":false,"title":null,"domain":false,"tickSize":3}}}},
     {"data":{"name":"dPts"},"transform":[{"filter":"datum.s == 'ciO'"}],"mark":{"type":"point","shape":"circle","filled":true,"fill":"white","stroke":"black","strokeWidth":1.3,"size":38,"opacity":1},
      "encoding":{"x":{"field":"V","type":"quantitative","scale":{"domain":[-135,10],"nice":false,"zero":false},"axis":null},
                  "y":{"field":"val","type":"quantitative","scale":{"domain":[-0.1,1.3],"nice":false,"zero":false},"axis":null}}},
     {"data":{"name":"dPts"},"transform":[{"filter":"datum.s == 'sqO'"}],"mark":{"type":"point","shape":"square","filled":true,"fill":"white","stroke":"black","strokeWidth":1.3,"size":40,"opacity":1},
      "encoding":{"x":{"field":"V","type":"quantitative","scale":{"domain":[-135,10],"nice":false,"zero":false},"axis":null},
                  "y":{"field":"val","type":"quantitative","scale":{"domain":[-0.1,1.3],"nice":false,"zero":false},"axis":null}}},
     {"data":{"name":"dPts"},"transform":[{"filter":"datum.s == 'ciF'"}],"mark":{"type":"point","shape":"circle","filled":true,"size":42,"opacity":1},
      "encoding":{"x":{"field":"V","type":"quantitative","scale":{"domain":[-135,10],"nice":false,"zero":false},"axis":null},
                  "y":{"field":"val","type":"quantitative","scale":{"domain":[-0.1,1.3],"nice":false,"zero":false},"axis":null}}},
     {"data":{"name":"dPts"},"transform":[{"filter":"datum.s == 'sqF'"}],"mark":{"type":"point","shape":"square","filled":true,"size":45,"opacity":1},
      "encoding":{"x":{"field":"V","type":"quantitative","scale":{"domain":[-135,10],"nice":false,"zero":false},"axis":null},
                  "y":{"field":"val","type":"quantitative","scale":{"domain":[-0.1,1.3],"nice":false,"zero":false},"axis":null}}},
     {"data":{"values":[{"label":"IR A359C  [4-AP] = 0 mM(■), [4-AP] = 10 mM (□)","V":-129.4,"val":1.3},{"label":"IR A359C V478A  [4-AP] = 0 mM(●), [4-AP] =10 mM(○)","V":-129.4,"val":1.2117},{"label":"IR A359C (ΔF","V":-129.4,"val":1.1165},{"label":")","V":-85.7,"val":1.1165}]},
      "mark":{"type":"text","fontSize":10.5,"align":"left"},
      "encoding":{"x":{"field":"V","type":"quantitative","scale":{"domain":[-135,10],"nice":false,"zero":false},"axis":null},
                  "y":{"field":"val","type":"quantitative","scale":{"domain":[-0.1,1.3],"nice":false,"zero":false},"axis":null},"text":{"field":"label"}}},
     {"data":{"values":[{"label":"ON","V":-92.45,"val":1.096}]},
      "mark":{"type":"text","fontSize":7.5,"align":"left"},
      "encoding":{"x":{"field":"V","type":"quantitative","scale":{"domain":[-135,10],"nice":false,"zero":false},"axis":null},
                  "y":{"field":"val","type":"quantitative","scale":{"domain":[-0.1,1.3],"nice":false,"zero":false},"axis":null},"text":{"field":"label"}}},
     {"data":{"values":[{"V0":-79.6,"V1":-70.6,"val":1.1165}]},
      "mark":{"type":"rule","strokeWidth":2,"color":"#9a9a9a"},
      "encoding":{"x":{"field":"V0","type":"quantitative","scale":{"domain":[-135,10],"nice":false,"zero":false},"axis":null},"x2":{"field":"V1"},
                  "y":{"field":"val","type":"quantitative","scale":{"domain":[-0.1,1.3],"nice":false,"zero":false},"axis":null}}},
     {"data":{"values":[{"label":"ΔF/ΔF","V":-149.7,"val":0.544}]},
      "mark":{"type":"text","fontSize":12,"fontStyle":"italic","angle":270},
      "encoding":{"x":{"field":"V","type":"quantitative","scale":{"domain":[-135,10],"nice":false,"zero":false},"axis":null},
                  "y":{"field":"val","type":"quantitative","scale":{"domain":[-0.1,1.3],"nice":false,"zero":false},"axis":null},"text":{"field":"label"}}},
     {"data":{"values":[{"label":"MAX","V":-145.2,"val":0.745}]},
      "mark":{"type":"text","fontSize":10,"angle":270},
      "encoding":{"x":{"field":"V","type":"quantitative","scale":{"domain":[-135,10],"nice":false,"zero":false},"axis":null},
                  "y":{"field":"val","type":"quantitative","scale":{"domain":[-0.1,1.3],"nice":false,"zero":false},"axis":null},"text":{"field":"label"}}},
     {"data":{"values":[{"label":"D","V":-152.4,"val":1.388}]},
      "mark":{"type":"text","fontSize":18},
      "encoding":{"x":{"field":"V","type":"quantitative","scale":{"domain":[-135,10],"nice":false,"zero":false},"axis":null},
                  "y":{"field":"val","type":"quantitative","scale":{"domain":[-0.1,1.3],"nice":false,"zero":false},"axis":null},"text":{"field":"label"}}}
    ]
   },
   {"width":259,"height":46,"data":{"values":[]},"mark":"point"},
   {
    "width":232,"height":157,
    "resolve":{"axis":{"x":"independent","y":"independent"}},
    "layer":[
     {"data":{"name":"eTau"},"mark":{"type":"line","strokeWidth":2},
      "encoding":{"x":{"field":"V","type":"quantitative","scale":{"domain":[-130,-30],"nice":false,"zero":false},
                       "axis":{"orient":"bottom","values":[-130,-120,-110,-100,-90,-80,-70,-60,-50,-40,-30],"format":"d","labelFontSize":11,"tickSize":5,"labelPadding":3,"title":"Voltage (mV)","titleFontSize":13,"titleY":29,"titleBaseline":"middle"}},
                  "y":{"field":"tau","type":"quantitative","scale":{"type":"log","domain":[1,10000],"nice":false},
                       "axis":{"orient":"left","values":[1,10,100,1000,10000],"format":"d","labelFontSize":11.5,"tickSize":4,"labelPadding":2,"title":"τ (ms)","titleFontSize":13,"titleX":-30,"titleY":76,"titleBaseline":"middle","titleAngle":270,"titleAlign":"center"}},
                  "detail":{"field":"s"}}},
     {"data":{"name":"eErr"},"mark":{"type":"rule","strokeWidth":1.5},
      "encoding":{"x":{"field":"V","type":"quantitative","scale":{"domain":[-130,-30],"nice":false,"zero":false},"axis":null},
                  "y":{"field":"lo","type":"quantitative","scale":{"type":"log","domain":[1,10000],"nice":false},"axis":null},"y2":{"field":"hi"}}},
     {"data":{"name":"eErr"},"mark":{"type":"tick","orient":"horizontal","size":8,"thickness":1.5,"opacity":1},
      "encoding":{"x":{"field":"V","type":"quantitative","scale":{"domain":[-130,-30],"nice":false,"zero":false},"axis":null},
                  "y":{"field":"lo","type":"quantitative","scale":{"type":"log","domain":[1,10000],"nice":false},"axis":null}}},
     {"data":{"name":"eErr"},"mark":{"type":"tick","orient":"horizontal","size":8,"thickness":1.5,"opacity":1},
      "encoding":{"x":{"field":"V","type":"quantitative","scale":{"domain":[-130,-30],"nice":false,"zero":false},"axis":null},
                  "y":{"field":"hi","type":"quantitative","scale":{"type":"log","domain":[1,10000],"nice":false},"axis":null}}},
     {"data":{"name":"eTau"},"transform":[{"filter":"datum.s == 'sq'"}],"mark":{"type":"point","shape":"square","filled":true,"size":60,"opacity":1},
      "encoding":{"x":{"field":"V","type":"quantitative","scale":{"domain":[-130,-30],"nice":false,"zero":false},"axis":null},
                  "y":{"field":"tau","type":"quantitative","scale":{"type":"log","domain":[1,10000],"nice":false},"axis":null}}},
     {"data":{"name":"eTau"},"transform":[{"filter":"datum.s == 'ci'"}],"mark":{"type":"point","shape":"circle","filled":true,"size":55,"opacity":1},
      "encoding":{"x":{"field":"V","type":"quantitative","scale":{"domain":[-130,-30],"nice":false,"zero":false},"axis":null},
                  "y":{"field":"tau","type":"quantitative","scale":{"type":"log","domain":[1,10000],"nice":false},"axis":null}}},
     {"data":{"values":[{"V":-80.4,"tau":7.8}]},"mark":{"type":"point","shape":"square","filled":true,"size":60,"opacity":1},
      "encoding":{"x":{"field":"V","type":"quantitative","scale":{"domain":[-130,-30],"nice":false,"zero":false},"axis":null},
                  "y":{"field":"tau","type":"quantitative","scale":{"type":"log","domain":[1,10000],"nice":false},"axis":null}}},
     {"data":{"values":[{"V":-80.4,"tau":3.24}]},"mark":{"type":"point","shape":"circle","filled":true,"size":55,"opacity":1},
      "encoding":{"x":{"field":"V","type":"quantitative","scale":{"domain":[-130,-30],"nice":false,"zero":false},"axis":null},
                  "y":{"field":"tau","type":"quantitative","scale":{"type":"log","domain":[1,10000],"nice":false},"axis":null}}},
     {"data":{"values":[{"label":"IR A359C","V":-77.1,"tau":7.8},{"label":"IR A359C V478A","V":-77.1,"tau":3.24}]},
      "mark":{"type":"text","fontSize":12,"align":"left"},
      "encoding":{"x":{"field":"V","type":"quantitative","scale":{"domain":[-130,-30],"nice":false,"zero":false},"axis":null},
                  "y":{"field":"tau","type":"quantitative","scale":{"type":"log","domain":[1,10000],"nice":false},"axis":null},"text":{"field":"label"}}},
     {"data":{"values":[{"label":"E","V":-149.4,"tau":45900}]},
      "mark":{"type":"text","fontSize":18},
      "encoding":{"x":{"field":"V","type":"quantitative","scale":{"domain":[-130,-30],"nice":false,"zero":false},"axis":null},
                  "y":{"field":"tau","type":"quantitative","scale":{"type":"log","domain":[1,10000],"nice":false},"axis":null},"text":{"field":"label"}}}
    ]
   }
  ],"spacing":0,"bounds":"flush"}
 ],"spacing":0,"bounds":"full"}
]
}
